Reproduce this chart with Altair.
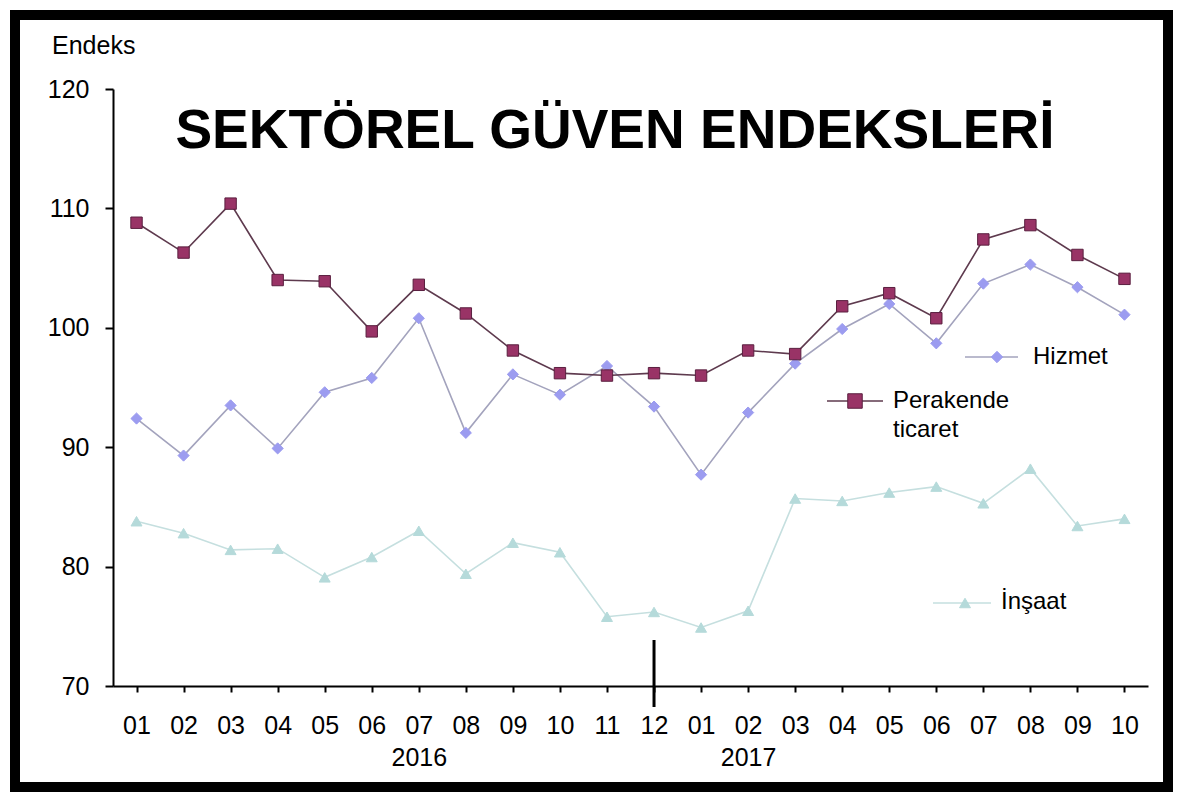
import altair as alt
import pandas as pd

months = ["01", "02", "03", "04", "05", "06", "07", "08", "09", "10", "11", "12",
          "01", "02", "03", "04", "05", "06", "07", "08", "09", "10"]
years = [2016] * 12 + [2017] * 10
perakende = [108.8, 106.3, 110.4, 104.0, 103.9, 99.7, 103.6, 101.2, 98.1, 96.2, 96.0, 96.2,
             96.0, 98.1, 97.8, 101.8, 102.9, 100.8, 107.4, 108.6, 106.1, 104.1]
hizmet = [92.4, 89.3, 93.5, 89.9, 94.6, 95.8, 100.8, 91.2, 96.1, 94.4, 96.8, 93.4,
          87.7, 92.9, 97.0, 99.9, 102.0, 98.7, 103.7, 105.3, 103.4, 101.1]
insaat = [83.8, 82.8, 81.4, 81.5, 79.1, 80.8, 83.0, 79.4, 82.0, 81.2, 75.8, 76.2,
          74.9, 76.3, 85.7, 85.5, 86.2, 86.7, 85.3, 88.2, 83.4, 84.0]
year_labels = ["2016", "2017"]
year_label_index = [6, 13]
y_ticks = [70, 80, 90, 100, 110, 120]
series_names = ["İnşaat", "Hizmet", "Perakende ticaret"]

rows = []
for name, vals in zip(series_names, [insaat, hizmet, perakende]):
    for i, v in enumerate(vals):
        rows.append({"i": i, "seri": name, "deger": v})
df = pd.DataFrame(rows)

W, H = 1035, 597
FONT = "Liberation Sans"

# axis label expression (months, with year as a second line)
parts = []
for yl, yi in zip(year_labels, year_label_index):
    parts.append(f"datum.value == {yi} ? ['{months[yi]}', '{yl}'] : ")
month_arr = "[" + ",".join(f"'{m}'" for m in months) + "]"
label_expr = "".join(parts) + f"{month_arr}[datum.value]"

x_enc = alt.X("i:Q", scale=alt.Scale(domain=[-0.5, len(months) - 0.5], nice=False, zero=False),
              axis=alt.Axis(values=list(range(len(months))), labelExpr=label_expr, title=None,
                            grid=False, domainColor="black", domainWidth=2, tickColor="black",
                            tickWidth=2, tickSize=6, labelFontSize=25, labelFont=FONT,
                            labelColor="black", labelPadding=21, labelLineHeight=32,
                            labelFlush=False, labelOverlap=False))
y_enc = alt.Y("deger:Q", scale=alt.Scale(domain=[70, 120], nice=False, zero=False),
              axis=alt.Axis(values=y_ticks, title=None, grid=False, domainColor="black",
                            domainWidth=2, tickColor="black", tickWidth=2, tickSize=8,
                            labelFontSize=25, labelFont=FONT, labelColor="black",
                            labelPadding=16))

line_colors = ["#c5dfdf", "#a3a3bd", "#5e3a4e"]
fill_colors = ["#b5dada", "#9c9cf0", "#993366"]
stroke_colors = ["#b5dada", "#9c9cf0", "#5a1f3f"]
shapes = ["triangle-up", "diamond", "square"]
sizes = [120, 130, 210]

base = alt.Chart(df)
lines = base.mark_line(strokeWidth=1.6).encode(
    x=x_enc, y=y_enc,
    color=alt.Color("seri:N", scale=alt.Scale(domain=series_names, range=line_colors), legend=None),
    detail="seri:N",
)
points = base.mark_point(filled=True, opacity=1, strokeWidth=1).encode(
    x="i:Q", y="deger:Q",
    fill=alt.Fill("seri:N", scale=alt.Scale(domain=series_names, range=fill_colors), legend=None),
    stroke=alt.Stroke("seri:N", scale=alt.Scale(domain=series_names, range=stroke_colors), legend=None),
    shape=alt.Shape("seri:N", scale=alt.Scale(domain=series_names, range=shapes), legend=None),
    size=alt.Size("seri:N", scale=alt.Scale(domain=series_names, range=sizes), legend=None),
)

# year separator at the last month of the first year
sep_index = max(i for i, yv in enumerate(years) if yv == years[0])
sep = alt.Chart(pd.DataFrame({"i": [sep_index]})).mark_rule(color="black", strokeWidth=3).encode(
    x="i:Q", y=alt.value(551), y2=alt.value(618)
)

one = alt.Data(values=[{}])

def txt(text, x, y, size=24, weight="normal", align="left", baseline="middle"):
    return alt.Chart(one).mark_text(text=text, fontSize=size, font=FONT, fontWeight=weight,
                                    align=align, baseline=baseline, color="black").encode(
        x=alt.value(x), y=alt.value(y))

def leg_line(x1, x2, y, color):
    return alt.Chart(one).mark_rule(color=color, strokeWidth=1.6).encode(
        x=alt.value(x1), x2=alt.value(x2), y=alt.value(y))

def leg_point(x, y, shape, fill, stroke, size):
    return alt.Chart(one).mark_point(shape=shape, filled=True, fill=fill, stroke=stroke,
                                     strokeWidth=1, size=size, opacity=1).encode(
        x=alt.value(x), y=alt.value(y))

title = txt("SEKTÖREL GÜVEN ENDEKSLERİ", 502, 42, size=55, weight="bold", align="center")
endeks = txt("Endeks", -61, -43, size=25)

legends = [
    leg_line(852, 905, 268, line_colors[1]), leg_point(884, 268, shapes[1], fill_colors[1], stroke_colors[1], 130),
    txt("Hizmet", 920, 268),
    leg_line(714, 770, 312, line_colors[2]), leg_point(742, 312, shapes[2], fill_colors[2], stroke_colors[2], 210),
    txt("Perakende", 780, 312), txt("ticaret", 780, 341),
    leg_line(820, 878, 514, line_colors[0]), leg_point(852, 514, shapes[0], fill_colors[0], stroke_colors[0], 120),
    txt("İnşaat", 888, 513),
]

frame = alt.Chart(one).mark_rect(fillOpacity=0, stroke="black", strokeWidth=10).encode(
    x=alt.value(-98), x2=alt.value(1055), y=alt.value(-74), y2=alt.value(698)
)

chart = alt.layer(lines, points, sep, title, endeks, *legends, frame).properties(
    width=W, height=H,
    autosize=alt.AutoSizeParams(type="none"),
    padding={"left": 113, "top": 89, "right": 52, "bottom": 126},
    background="white",
).configure_view(stroke=None)

chart.save("out.html", embed_options={"renderer": "svg", "actions": False})
